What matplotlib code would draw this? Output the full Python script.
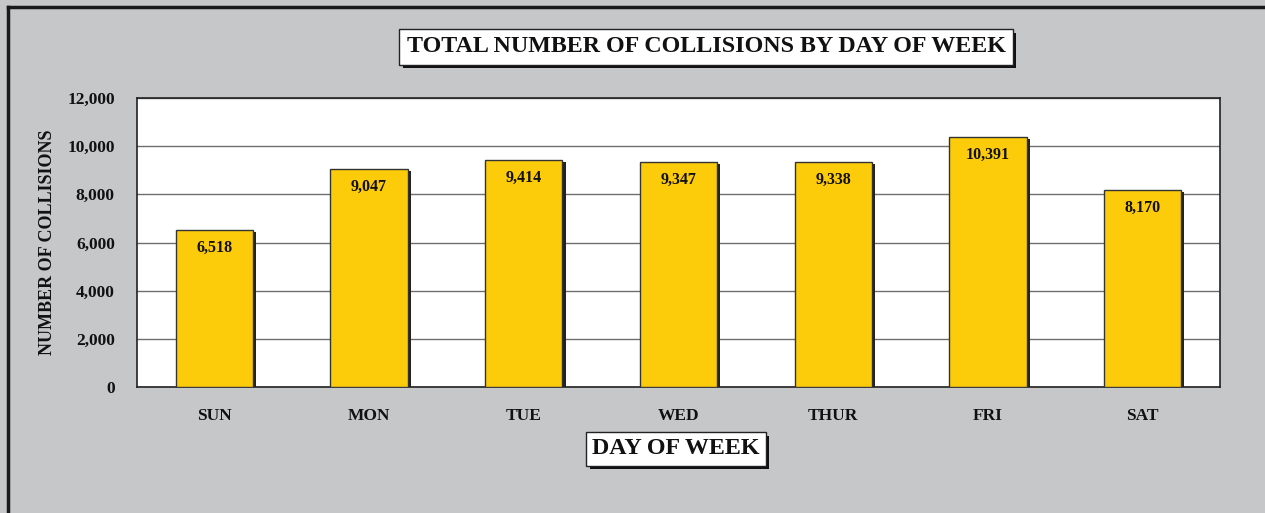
import matplotlib.pyplot as plt
import matplotlib.patheffects as pe
from matplotlib.ticker import FuncFormatter

# data
days = ['SUN', 'MON', 'TUE', 'WED', 'THUR', 'FRI', 'SAT']
collisions = [6518, 9047, 9414, 9347, 9338, 10391, 8170]
yticks = [0, 2000, 4000, 6000, 8000, 10000, 12000]

plt.rcParams['font.family'] = ['Liberation Serif', 'DejaVu Serif']
plt.rcParams['font.weight'] = 'bold'

BG = '#c6c7c9'
YELLOW = '#fccb0a'

fig = plt.figure(figsize=(12.65, 5.13), dpi=100, facecolor=BG)
ax = fig.add_axes([137 / 1265, 1 - 387 / 513, (1220 - 137) / 1265, (387 - 98) / 513])
ax.set_facecolor('white')

x = range(len(days))
bars = ax.bar(x, collisions, width=0.5, color=YELLOW, edgecolor='#333333', linewidth=1, zorder=3)
for b in bars:
    b.set_path_effects([pe.SimplePatchShadow(offset=(2.2, -1.5), shadow_rgbFace='#222222', alpha=1),
                        pe.Normal()])

for xi, v in zip(x, collisions):
    ax.annotate(f'{v:,}', (xi, v), xytext=(0, -7), textcoords='offset points',
                ha='center', va='top', fontsize=11.5, fontweight='bold', color='#111111', zorder=4)

ax.set_xlim(-0.5, len(days) - 0.5)
ax.set_ylim(0, 12000)
ax.set_yticks(yticks)
ax.yaxis.set_major_formatter(FuncFormatter(lambda v, p: f'{int(v):,}'))
ax.set_xticks(list(x))
ax.set_xticklabels(days)
ax.tick_params(length=0, labelsize=12.5, colors='#111111')
ax.tick_params(axis='x', pad=15)
ax.tick_params(axis='y', pad=16)
for lab in ax.get_xticklabels() + ax.get_yticklabels():
    lab.set_fontweight('bold')
ax.grid(axis='y', color='#6e6e6e', linewidth=1, zorder=0)
for s in ax.spines.values():
    s.set_color('#222222')
    s.set_linewidth(1.2)

ax.set_ylabel('NUMBER OF COLLISIONS', fontsize=13, fontweight='bold', color='#111111', labelpad=8)

title = fig.text(706 / 1265, 1 - 47 / 513, 'TOTAL NUMBER OF COLLISIONS BY DAY OF WEEK',
                 ha='center', va='center', fontsize=17.3, fontweight='bold', color='#111111',
                 bbox=dict(boxstyle='square,pad=0.3', facecolor='white', edgecolor='#222222', linewidth=1))
title.get_bbox_patch().set_path_effects([pe.SimplePatchShadow(offset=(2.5, -2.5), shadow_rgbFace='#111111', alpha=1),
                                        pe.Normal()])

xl = fig.text(676 / 1265, 1 - 449 / 513, 'DAY OF WEEK', ha='center', va='center', fontsize=17.3,
              fontweight='bold', color='#111111',
              bbox=dict(boxstyle='square,pad=0.25', facecolor='white', edgecolor='#222222', linewidth=1))
xl.get_bbox_patch().set_path_effects([pe.SimplePatchShadow(offset=(2.5, -2.5), shadow_rgbFace='#111111', alpha=1),
                                     pe.Normal()])

# outer frame lines (top and left)
fig.add_artist(plt.Line2D([8 / 1265, 1], [1 - 7 / 513, 1 - 7 / 513], color='#1a1a1a', linewidth=2.5,
                          transform=fig.transFigure))
fig.add_artist(plt.Line2D([8 / 1265, 8 / 1265], [0, 1 - 7 / 513], color='#1a1a1a', linewidth=2.5,
                          transform=fig.transFigure))

fig.savefig('out.png', dpi=100, facecolor=BG)
